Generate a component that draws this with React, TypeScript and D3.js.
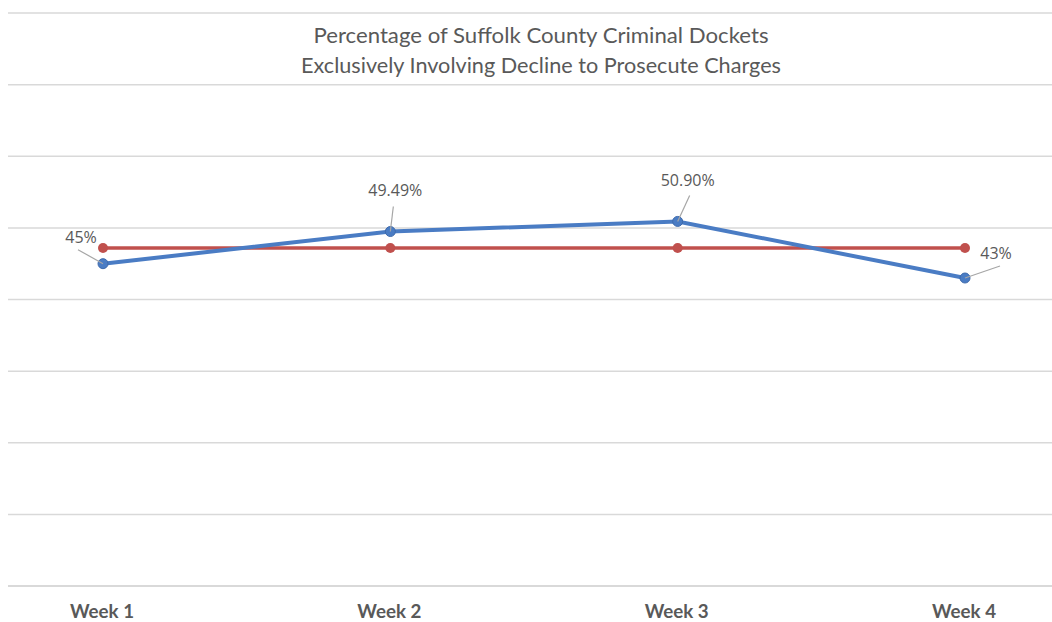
import React from "react";
import * as d3 from "d3";

const weeks = ["Week 1", "Week 2", "Week 3", "Week 4"];
const declineShare = [45, 49.49, 50.9, 43];
const declineLabels = ["45%", "49.49%", "50.90%", "43%"];
const averageShare = [47.2, 47.2, 47.2, 47.2];
const gridTicks = [0, 10, 20, 30, 40, 50, 60, 70, 80];
const titleLines = [
  "Percentage of Suffolk County Criminal Dockets",
  "Exclusively Involving Decline to Prosecute Charges",
];

const W = 1052;
const H = 622;

// label offsets relative to each point: label centre and leader-line start
const labelOffsets = [
  { lx: -22, ly: -21, sx: -25, sy: -14 },
  { lx: 5, ly: -36, sx: 3, sy: -25 },
  { lx: 10, ly: -35, sx: 12, sy: -26 },
  { lx: 31, ly: -19, sx: 35, sy: -12 },
];

export default function App() {
  const x = d3.scalePoint<string>().domain(weeks).range([103, 965]);
  const y = d3.scaleLinear().domain([0, 80]).range([586, 13]);

  const line = d3
    .line<number>()
    .x((_, i) => x(weeks[i]) as number)
    .y((d) => y(d));

  const textColor = "#595959";

  return (
    <svg
      width={W}
      height={H}
      style={{ position: "absolute", left: 0, top: 0, background: "#fff" }}
    >
      {gridTicks.map((t) => (
        <line
          key={t}
          x1={8}
          x2={W}
          y1={y(t)}
          y2={y(t)}
          stroke="#d9d9d9"
          strokeWidth={t === 0 ? 2 : 1.5}
        />
      ))}

      {titleLines.map((s, i) => (
        <text
          key={i}
          x={541}
          y={43 + i * 30}
          textAnchor="middle"
          fill={textColor}
          fontFamily="Lato, 'Open Sans', sans-serif"
          fontWeight={400}
          fontSize={22}
          textLength={i === 0 ? 455 : 480}
          lengthAdjust="spacingAndGlyphs"
        >
          {s}
        </text>
      ))}

      <path d={line(averageShare) || ""} fill="none" stroke="#C0504D" strokeWidth={3.5} />
      {averageShare.map((v, i) => (
        <circle key={i} cx={x(weeks[i])} cy={y(v)} r={5} fill="#C0504D" />
      ))}

      <path d={line(declineShare) || ""} fill="none" stroke="#4A7CC4" strokeWidth={4} />
      {declineShare.map((v, i) => (
        <circle key={i} cx={x(weeks[i])} cy={y(v)} r={5} fill="#4A7CC4" stroke="#3e6aab" strokeWidth={1} />
      ))}

      {declineShare.map((v, i) => {
        const px = x(weeks[i]) as number;
        const py = y(v);
        const o = labelOffsets[i];
        return (
          <g key={i}>
            <line
              x1={px + o.sx}
              y1={py + o.sy}
              x2={px}
              y2={py}
              stroke="#a6a6a6"
              strokeWidth={1.2}
            />
            <text
              x={px + o.lx}
              y={py + o.ly}
              textAnchor="middle"
              fill={textColor}
              fontFamily="'Open Sans', sans-serif"
              fontSize={16}
            >
              {declineLabels[i]}
            </text>
          </g>
        );
      })}

      {weeks.map((w) => (
        <text
          key={w}
          x={(x(w) as number) - 1}
          y={618}
          textAnchor="middle"
          fill={textColor}
          fontFamily="Lato, 'Open Sans', sans-serif"
          fontWeight={700}
          fontSize={18}
          textLength={64}
          lengthAdjust="spacingAndGlyphs"
        >
          {w}
        </text>
      ))}
    </svg>
  );
}
